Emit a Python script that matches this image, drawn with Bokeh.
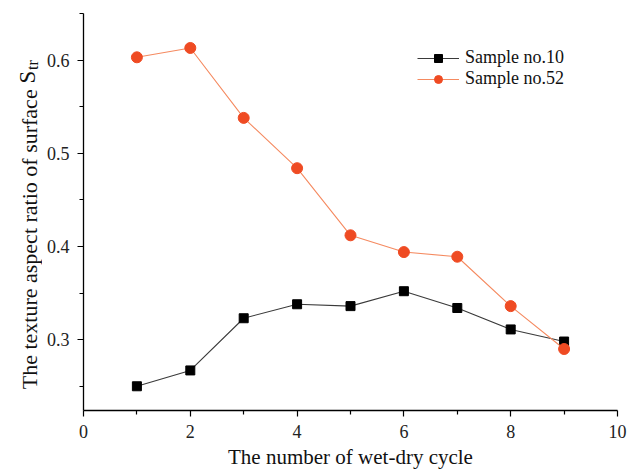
from bokeh.plotting import figure
from bokeh.layouts import row
from bokeh.models import Range1d, Legend, LegendItem, FixedTicker
from bokeh.core.properties import value
from bokeh.embed import file_html
from bokeh.resources import INLINE
import math

cycles = [1, 2, 3, 4, 5, 6, 7, 8, 9]
sample10 = [0.250, 0.267, 0.323, 0.338, 0.336, 0.352, 0.334, 0.311, 0.298]
sample52 = [0.603, 0.613, 0.538, 0.484, 0.412, 0.394, 0.389, 0.336, 0.290]
x_ticks = [0, 2, 4, 6, 8, 10]
y_ticks = [0.3, 0.4, 0.5, 0.6]
x_label = "The number of wet-dry cycle"
y_label_main = "The texture aspect ratio of surface"
y_label_sym = "S"
y_label_sub = "tr"
series_names = ["Sample no.10", "Sample no.52"]

FONT = "Liberation Serif"
W, H = 632, 471
LAB_W = 42
X0, X1 = 0, 10
Y0, Y1 = 0.224, 0.65

# ---- narrow strip holding the y-axis title (text is real text) ----
lab = figure(width=LAB_W, height=H, output_backend="svg", toolbar_location=None,
             x_range=Range1d(0, LAB_W), y_range=Range1d(0, H),
             x_axis_type=None, y_axis_type=None, min_border=0)
lab.outline_line_color = None
lab.xgrid.visible = False
lab.ygrid.visible = False
lab.border_fill_color = "white"
lab.background_fill_color = "white"

def ty(py):  # canvas px from top -> strip coordinate
    return H - py

lab.text(x=[29], y=[ty(90)], text=[y_label_main], angle=math.pi / 2,
         text_align="right", text_baseline="alphabetic",
         text_font=value(FONT), text_font_size="22px", text_color="#111111")
lab.text(x=[27], y=[ty(83)], text=[y_label_sym], angle=math.pi / 2,
         text_align="left", text_baseline="alphabetic",
         text_font=value(FONT), text_font_size="23px", text_color="#111111")
lab.text(x=[32], y=[ty(67)], text=[y_label_sub], angle=math.pi / 2,
         text_align="left", text_baseline="alphabetic",
         text_font=value(FONT), text_font_size="16px", text_color="#111111")

# ---- main chart ----
p = figure(width=W - LAB_W, height=H, output_backend="svg", toolbar_location=None,
           x_range=Range1d(X0, X1), y_range=Range1d(Y0, Y1),
           min_border_left=83 - LAB_W, min_border_right=15,
           min_border_top=13, min_border_bottom=60)
p.outline_line_color = None
p.xgrid.visible = False
p.ygrid.visible = False
p.background_fill_color = "white"
p.border_fill_color = "white"

l10 = p.line(cycles, sample10, line_color="#3a3a3a", line_width=1.1)
s10 = p.scatter(cycles, sample10, marker="square", size=9, fill_color="black", line_color="black")
l52 = p.line(cycles, sample52, line_color="#f58a60", line_width=1.1)
s52 = p.scatter(cycles, sample52, marker="circle", size=11, fill_color="#ef4b23", line_color="#ef4b23")

for ax in (p.xaxis[0], p.yaxis[0]):
    ax.axis_line_color = "black"
    ax.axis_line_width = 1.3
    ax.major_tick_line_color = "black"
    ax.minor_tick_line_color = "black"
    ax.major_tick_line_width = 1.2
    ax.minor_tick_line_width = 1.2
    ax.major_tick_out = 6
    ax.major_tick_in = 0
    ax.minor_tick_out = 4
    ax.minor_tick_in = 0
    ax.major_label_text_font = FONT
    ax.major_label_text_font_size = "18px"
    ax.major_label_text_color = "#222222"

p.xaxis[0].ticker = FixedTicker(ticks=x_ticks, minor_ticks=[1, 3, 5, 7, 9])
p.yaxis[0].ticker = FixedTicker(ticks=y_ticks, minor_ticks=[0.25, 0.35, 0.45, 0.55, 0.65])
p.xaxis[0].major_label_standoff = 8
p.yaxis[0].major_label_standoff = 8

p.xaxis[0].axis_label = x_label
p.xaxis[0].axis_label_text_font = FONT
p.xaxis[0].axis_label_text_font_size = "21px"
p.xaxis[0].axis_label_text_font_style = "normal"
p.xaxis[0].axis_label_text_color = "#111111"
p.xaxis[0].axis_label_standoff = 4

legend = Legend(items=[LegendItem(label=series_names[0], renderers=[l10, s10]),
                       LegendItem(label=series_names[1], renderers=[l52, s52])],
                location=(334, 321), padding=0, margin=0, spacing=0,
                glyph_width=42, glyph_height=20, label_standoff=6,
                border_line_color=None, background_fill_alpha=0,
                label_text_font=FONT, label_text_font_size="18px",
                label_text_color="#111111")
p.add_layout(legend)

layout = row(lab, p, spacing=0)
open("out.html", "w").write(file_html(layout, INLINE))
